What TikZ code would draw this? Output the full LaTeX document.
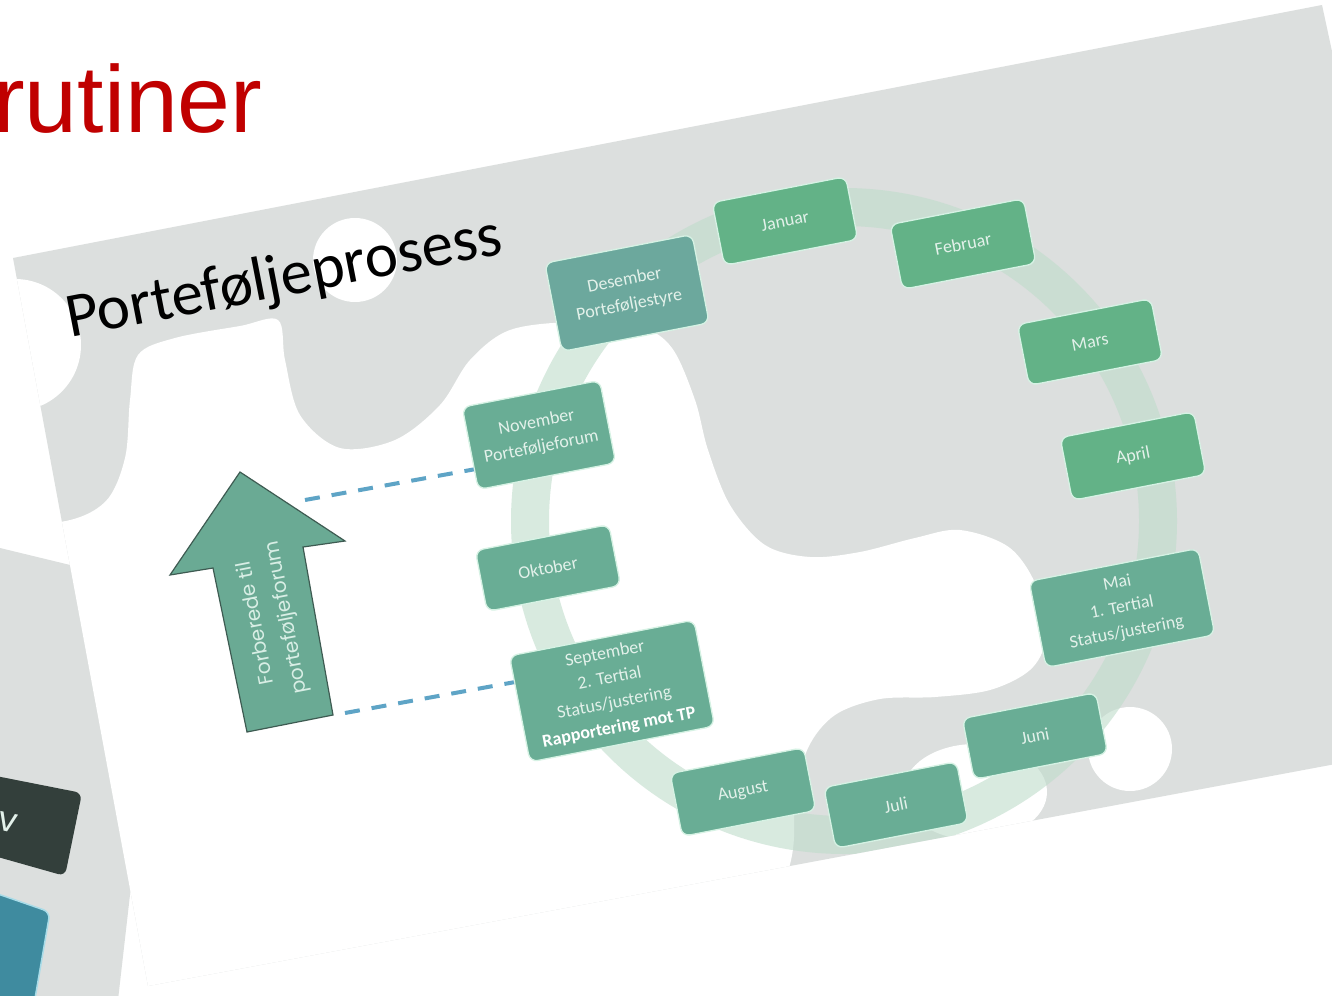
\documentclass[tikz,border=0pt]{standalone}
\usepackage{fontspec}
\setmainfont{Carlito}
\newfontfamily\popfont{Poppins}
\newfontfamily\arialfont{Liberation Sans}
\usetikzlibrary{calc}

\definecolor{slidegray}{HTML}{DCDFDE}
\definecolor{boxgreen}{HTML}{63B287}
\definecolor{boxteal}{HTML}{69AD95}
\definecolor{boxtealdark}{HTML}{6CA89D}
\definecolor{boxtext}{HTML}{E3F1EA}
\definecolor{boxedge}{HTML}{D6F2E4}
\definecolor{ringgreen}{HTML}{BFDCCB}
\definecolor{dashblue}{HTML}{5EA4C6}
\definecolor{arrowfill}{HTML}{6AAA94}
\definecolor{arrowedge}{HTML}{3E5B52}
\definecolor{arrowtext}{HTML}{D8EEE5}
\definecolor{titlered}{HTML}{C00000}
\definecolor{darkbox}{HTML}{333F3B}
\definecolor{tealbox}{HTML}{3F8B9F}
\definecolor{tealedge}{HTML}{A9DCE8}

\begin{document}
\begin{tikzpicture}[x=1pt,y=-1pt,
  mbox/.style={draw=boxedge, line width=1.3pt, rounded corners=8pt, rotate=11,
    align=center, text=boxtext, font=\fontsize{18}{25}\selectfont, inner sep=0pt},
  dashline/.style={dashblue, line width=4pt, dash pattern=on 15pt off 12pt},
  blob/.style={fill=white}
]
\useasboundingbox (0,0) rectangle (1332,995);
\fill[white] (0,0) rectangle (1332,995);

% slide behind, at the left
\fill[slidegray] (0,548) -- (165,588) -- (118,1000) -- (0,1000) -- cycle;
\fill[darkbox, rounded corners=7pt] (-80,761) -- (82,793) -- (65,876) -- (-80,835) -- cycle;
\node[font=\popfont\fontsize{34}{34}\selectfont, text=boxtext, rotate=-12] (vtxt) at (8,822) {v};
\filldraw[fill=tealbox, draw=tealedge, line width=1.5pt, rounded corners=7pt]
  (-80,867) -- (50,912) -- (33,1010) -- (-80,1010) -- cycle;

% main slide
\begin{scope}
  \clip (13,258) -- (1322,5) -- (1480,737) -- (148,986) -- cycle;
  \fill[slidegray] (0,0) rectangle (1500,1000);
  \fill[blob] (355,260) circle[radius=42pt];
  \fill[blob] (15,345) circle[radius=66pt];
  \fill[blob] (1130,749) circle[radius=42pt];
  \fill[blob] (975,792) ellipse[x radius=72pt, y radius=48pt];
  \fill[blob] plot[smooth cycle, tension=0.55] coordinates {
    (-20,520) (60,522) (105,502) (125,458) (130,400) (138,355) (175,338)
    (240,326) (278,320) (285,360) (300,415) (340,448) (395,440) (440,405)
    (470,360) (510,330) (575,322) (640,327) (672,348) (695,400) (708,450)
    (730,505) (765,545) (810,557) (860,552) (915,538) (960,530) (1010,548)
    (1038,590) (1045,640) (1030,670) (990,690) (935,697) (880,699) (835,715)
    (808,748) (795,800) (785,880) (700,1050) (100,1050) (-20,800)};
  \draw[ringgreen, opacity=0.6, line width=38pt] (844,521) circle[radius=314pt];
\end{scope}

% title texts
\node[font=\arialfont\fontsize{95}{110}\selectfont, text=titlered, anchor=base west, inner sep=0pt] (rut) at (-7,133) {rutiner};
\node[font=\fontsize{63}{70}\selectfont, anchor=base west, rotate=11, inner sep=0pt] (title) at (70,338) {Porteføljeprosess};

% month boxes
\node[mbox, fill=boxgreen, minimum width=136pt, minimum height=64pt] (jan) at (785,221) {Januar};
\node[mbox, fill=boxgreen, minimum width=136pt, minimum height=66pt] (feb) at (963,244) {Februar};
\node[mbox, fill=boxgreen, minimum width=136pt, minimum height=62pt] (mar) at (1090,342) {Mars};
\node[mbox, fill=boxgreen, minimum width=136pt, minimum height=64pt] (apr) at (1133,456) {April};
\node[mbox, fill=boxteal, minimum width=172pt, minimum height=88pt] (mai) at (1122,608) {Mai\\1. Tertial\\Status/justering};
\node[mbox, fill=boxteal, minimum width=136pt, minimum height=62pt] (jun) at (1035,736) {Juni};
\node[mbox, fill=boxteal, minimum width=135pt, minimum height=62pt] (jul) at (896,805) {Juli};
\node[mbox, fill=boxteal, minimum width=136pt, minimum height=64pt] (aug) at (743,792) {August};
\node[mbox, fill=boxteal, minimum width=188pt, minimum height=108pt] (sep) at (612,691) {September\\2. Tertial\\Status/justering\\{\color{white}\bfseries Rapportering mot TP}};
\node[mbox, fill=boxteal, minimum width=136pt, minimum height=62pt] (okt) at (548,568) {Oktober};
\node[mbox, fill=boxteal, minimum width=140pt, minimum height=84pt] (nov) at (539,435) {November\\Porteføljeforum};
\node[mbox, fill=boxtealdark, minimum width=150pt, minimum height=90pt] (des) at (627,293) {Desember\\Porteføljestyre};

% arrow
\filldraw[fill=arrowfill, draw=arrowedge, line width=1.2pt]
  (240,472) -- (345,541) -- (303,547) -- (333,715) -- (247,732) -- (213,568) -- (170,575) -- cycle;
\node[font=\popfont\fontsize{20}{31}\selectfont, text=arrowtext, rotate=101, align=center] (arrowtxt) at (272,620) {Forberede til\\porteføljeforum};
\coordinate (arrowA) at (305,500);
\coordinate (arrowB) at (345,713);

% dashed connectors
\draw[dashline] (arrowA) -- ($(nov.west)!0.5!(nov.south west)$);
\draw[dashline] (arrowB) -- ($(sep.west)!0.5!(sep.north west)$);
\end{tikzpicture}
\end{document}
